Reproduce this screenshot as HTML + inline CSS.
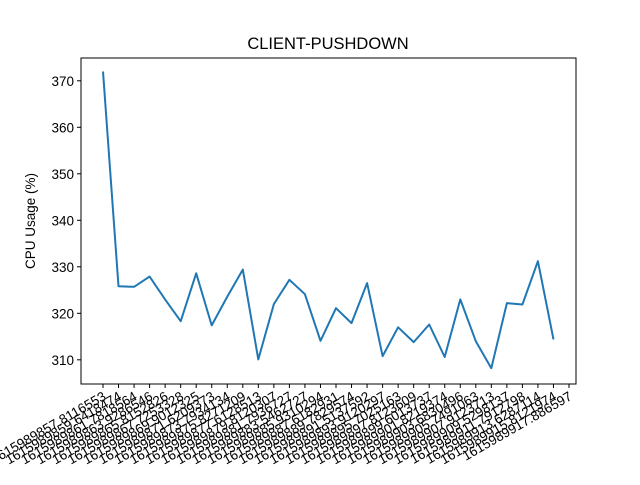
<!DOCTYPE html>
<html><head><meta charset="utf-8"><style>
body{margin:0;background:#fff;}
svg text{font-family:"Liberation Sans","DejaVu Sans",sans-serif;fill:#000;}
</style></head><body>
<svg id="chart" width="640" height="480">
<rect x="0" y="0" width="640" height="480" fill="#fff"/>
<text x="328" y="49" font-size="16.5" text-anchor="middle">CLIENT-PUSHDOWN</text>
<text transform="translate(35,221) rotate(-90)" font-size="13.5" text-anchor="middle">CPU Usage (%)</text>
<g id="yticks"></g><g id="xticks"></g>
<path id="line" fill="none" stroke="#1f77b4" stroke-width="2" stroke-linejoin="round"/>
<rect x="81" y="58" width="495" height="326" fill="none" stroke="#000" stroke-width="1"/>
</svg>
<script>
const categories = ["1615989857.8116553","1615989859.6418474","1615989861.7818564","1615989863.9286546","1615989865.8152826","1615989867.7253328","1615989869.9012325","1615989871.6209373","1615989873.7934134","1615989875.8271209","1615989877.6128513","1615989879.8120307","1615989881.7936727","1615989883.5462727","1615989885.9310294","1615989887.6182931","1615989889.7829574","1615989891.5137592","1615989893.9120297","1615989895.7025163","1615989897.8123609","1615989899.6013737","1615989901.8219374","1615989903.6830496","1615989905.7491063","1615989907.9123713","1615989909.5298137","1615989911.7912798","1615989913.6287114","1615989915.8121974","1615989917.886597"];
const values = [372,325.8,325.7,327.9,323,318.3,328.6,317.4,323.6,329.4,310.1,322,327.2,324.1,314.1,321.1,317.9,326.5,310.8,317,313.8,317.6,310.6,323,314,308.2,322.2,321.9,331.2,314.4];
const yTicks = [310,320,330,340,350,360,370];
const NS="http://www.w3.org/2000/svg";
const yMin=304.8,yMax=374.9,plotTop=58,plotBottom=384;
const y=v=>plotBottom-(v-yMin)/(yMax-yMin)*(plotBottom-plotTop);
const x=i=>103+i*(466/(categories.length-1));
const yg=document.getElementById('yticks'),xg=document.getElementById('xticks');
yTicks.forEach(t=>{
 const l=document.createElementNS(NS,'line');
 l.setAttribute('x1',77);l.setAttribute('x2',81);l.setAttribute('y1',y(t));l.setAttribute('y2',y(t));l.setAttribute('stroke','#000');
 
 
 yg.appendChild(l);
 const tx=document.createElementNS(NS,'text');
 tx.setAttribute('x',74);tx.setAttribute('y',y(t)+5);tx.setAttribute('font-size','13.5');tx.setAttribute('text-anchor','end');tx.textContent=t;
 
 
 yg.appendChild(tx);
});
categories.forEach((c,i)=>{
 const l=document.createElementNS(NS,'line');
 l.setAttribute('x1',x(i));l.setAttribute('x2',x(i));l.setAttribute('y1',384);l.setAttribute('y2',388);l.setAttribute('stroke','#000');
 
 
 xg.appendChild(l);
 const tx=document.createElementNS(NS,'text');
 tx.setAttribute('transform',`translate(${x(i)+4},${399}) rotate(-30)`);tx.setAttribute('font-size','13.5');tx.setAttribute('text-anchor','end');tx.textContent=c;
 
 
 xg.appendChild(tx);
});
document.getElementById('line').setAttribute('d',values.map((v,i)=>(i?'L':'M')+x(i).toFixed(1)+','+y(v).toFixed(1)).join(''));
</script>
</body></html>
